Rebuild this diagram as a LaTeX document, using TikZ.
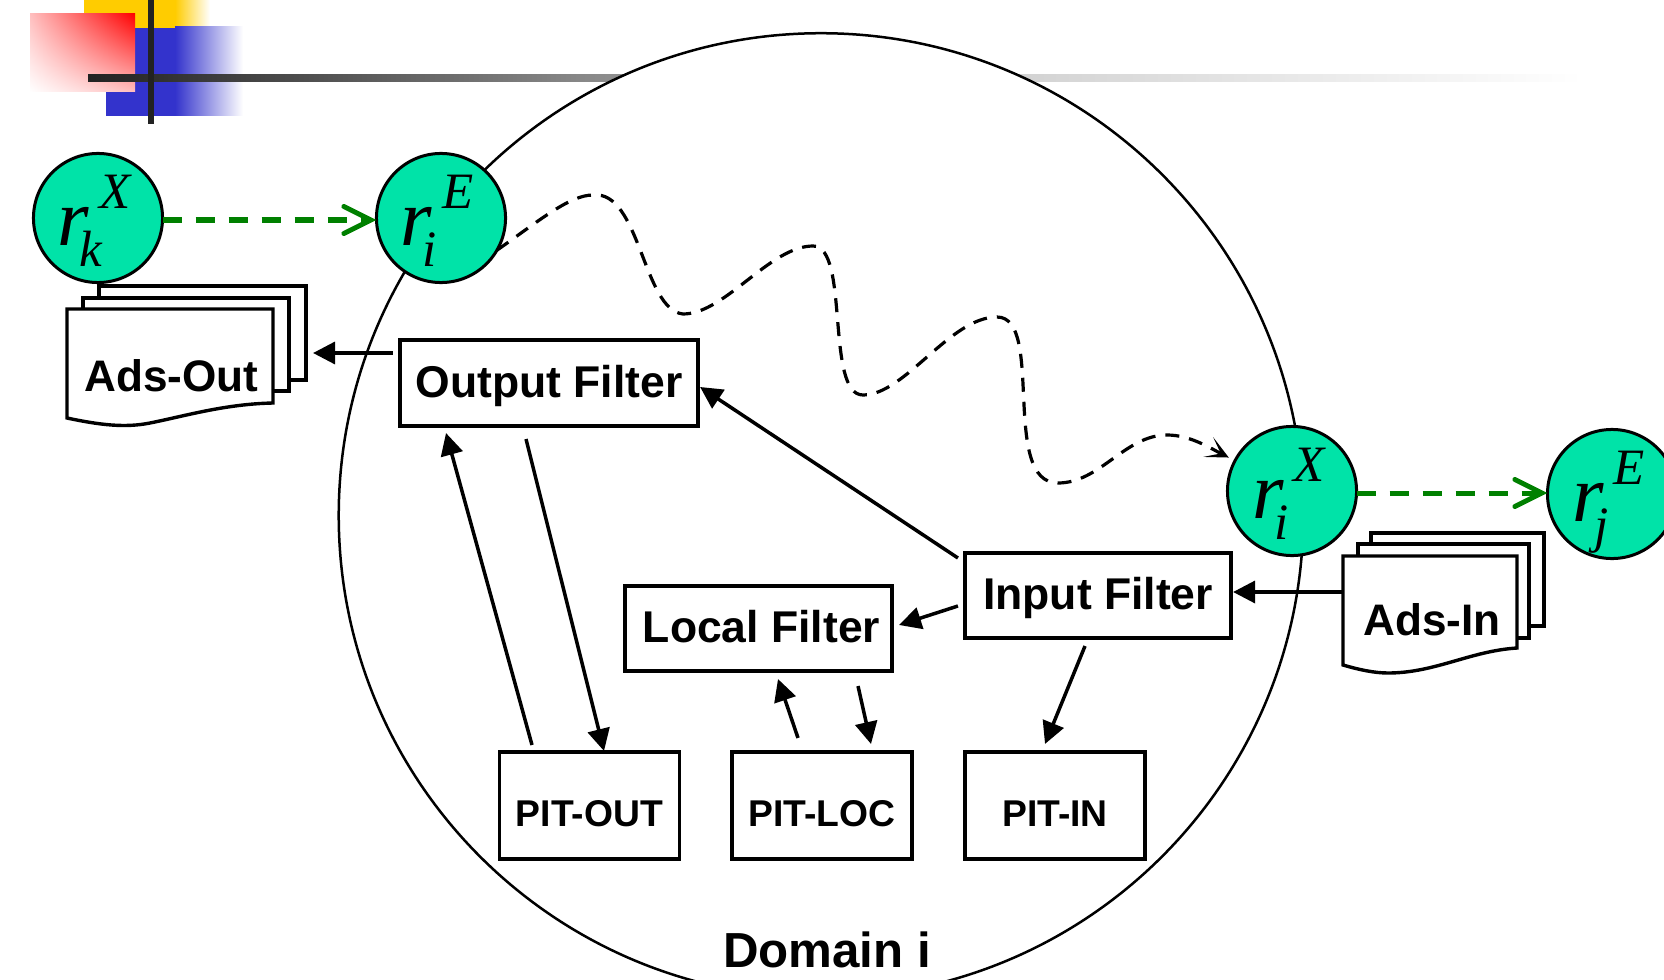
\documentclass[tikz,border=0pt]{standalone}
\usepackage{fontspec}
\usepackage{xcolor}
\usepackage{tikz}
\usetikzlibrary{positioning,shapes.geometric,arrows.meta,calc,shadings}
\setmainfont{Liberation Sans}
\newfontfamily\rfont{Liberation Serif}
\definecolor{routerfill}{RGB}{0,227,168}
\definecolor{hopgreen}{RGB}{0,128,0}
\definecolor{logoyellow}{RGB}{255,204,0}
\definecolor{logoblue}{RGB}{51,51,204}
\definecolor{logodark}{RGB}{34,34,34}
\newcommand{\rtext}[2]{\rfont\itshape
    \makebox[0pt][l]{\hspace*{-.40cm}\raisebox{-.27cm}[0pt][0pt]{\fontsize{23}{23}\selectfont r}}%
    \makebox[0pt][l]{\hspace*{.01cm}\raisebox{.09cm}[0pt][0pt]{\fontsize{14.5}{14.5}\selectfont #1}}%
    \makebox[0pt][l]{\hspace*{-.18cm}\raisebox{-.48cm}[0pt][0pt]{\fontsize{14.5}{14.5}\selectfont #2}}}
\newcommand{\pitname}[1]{\makebox[0pt]{#1}}
\tikzset{
    router/.style={draw,circle,line width=.03cm,fill=routerfill,minimum size=1.29cm,inner sep=0pt,outer sep=0pt},
    filterbox/.style={draw,line width=.04cm,fill=white,minimum height=.85cm,inner sep=0pt,outer sep=0pt,
        font=\fontsize{12.65}{12.65}\selectfont\bfseries,text height=.28cm,text depth=0pt},
    sheet/.style={draw,line width=.034cm,fill=white,inner sep=0pt,outer sep=0pt},
    sheetline/.style={line width=.034cm,fill=white},
    sheettext/.style={anchor=base,inner sep=0pt,font=\fontsize{12.55}{12.55}\selectfont\bfseries},
    pit/.style={draw,cylinder,shape border rotate=90,aspect=.3,line width=.034cm,fill=white,minimum width=1.8cm,
        minimum height=1.07cm,inner sep=0pt,outer sep=0pt,anchor=shape center,
        font=\fontsize{10.6}{10.6}\selectfont\bfseries,text height=.40cm,text depth=0pt},
    flow/.style={-{Triangle[length=.22cm,width=.22cm]},line width=.035cm},
    hop/.style={-{Straight Barb[length=.27cm,width=.27cm,line cap=round]},line width=.05cm,hopgreen,dash pattern=on .19cm off .14cm},
    session/.style={-{Stealth[length=.23cm,width=.22cm,inset=.14cm]},line width=.032cm,dash pattern=on .14cm off .10cm}
}

\begin{document}
\begin{tikzpicture}[x=.01cm,y=-.01cm]
            \clip (0,0) rectangle (1664,979);
            % logo
            \fill[logoyellow] (84,0) rectangle (175,28);
            \shade[left color=logoyellow,right color=white] (175,0) rectangle (210,28);
            \fill[logoblue] (106,28) rectangle (175,116);
            \shade[left color=logoblue,middle color=logoblue!40!white,right color=white] (175,27) rectangle (243,116);
            \shade[upper right=red,lower left=white,upper left=red!25,lower right=red!25] (30,14) rectangle (135,92);
            \shade[left color=logodark,right color=black!42] (88,75) rectangle (640,82);
            \shade[left color=black!18,right color=white] (1000,75) rectangle (1583,82);
            \fill[logodark] (148,0) rectangle (154,124);
            % domain
            \node[draw,circle,line width=.025cm,fill=white,minimum size=9.64cm,inner sep=0pt,outer sep=0pt] (domain) at (821,515.5) {};
            \node[anchor=base,inner sep=0pt,font=\fontsize{14}{14}\selectfont\bfseries] (domainname) at (827,967) {Domain i};
            % routers
            \node[router] (rkx) at (98,218) {\rtext{X}{k}};
            \node[router] (rie) at (441,218) {\rtext{E}{i}};
            \node[router] (rix) at (1292,491) {\rtext{X}{i}};
            \node[router] (rje) at (1612,494) {\rtext{E}{j}};
            \draw[hop] ($(rkx.east)+(0,2)$) -- ($(rie.west)+(0,2)$);
            \draw[hop] ($(rix.east)+(0,2)$) -- ($(rje.west)+(0,-1)$);
            \draw[session,shorten >=.07cm] (rie.-30) .. controls (540,220) and (570,195) .. (593,195)
                .. controls (640,190) and (643,310) .. (683,314)
                .. controls (725,314) and (770,246) .. (813,246)
                .. controls (850,246) and (825,395) .. (863,395)
                .. controls (905,395) and (950,317) .. (997,317)
                .. controls (1045,317) and (1000,483) .. (1058,483)
                .. controls (1100,483) and (1125,435) .. (1167,435)
                .. controls (1190,435) and (1210,448) .. (rix.152);
            % advertisements
            \node[sheet,minimum width=2.07cm,minimum height=.94cm] (adsoutback) at (202.5,333) {};
            \node[sheet,minimum width=2.06cm,minimum height=.93cm] (adsoutmid) at (186,344.5) {};
            \coordinate (adsoutfront) at (67,309);
            \draw[sheetline] (adsoutfront) -- ++(206,0) -- ++(0,94) .. controls (225,404) and (185,416) .. (150,423)
                .. controls (125,428) and (100,425) .. (67,418) -- cycle;
            \node[sheettext] (adsout) at (171.5,391) {Ads-Out};
            \node[sheet,minimum width=1.73cm,minimum height=.93cm] (adsinback) at (1457.5,579.5) {};
            \node[sheet,minimum width=1.71cm,minimum height=.94cm] (adsinmid) at (1443.5,591) {};
            \coordinate (adsinfront) at (1343,556);
            \draw[sheetline] (adsinfront) -- ++(174,0) -- ++(0,92) .. controls (1470,651) and (1435,673) .. (1388,673)
                .. controls (1375,673) and (1360,670) .. (1343,665) -- cycle;
            \node[sheettext] (adsin) at (1432,635) {Ads-In};
            % filters
            \node[filterbox,minimum width=2.98cm] (outfilter) at (549,383) {Output Filter};
            \node[filterbox,minimum width=2.66cm] (localfilter) at (758.5,628.5) {\hspace*{.06cm}Local Filter};
            \node[filterbox,minimum width=2.66cm] (infilter) at (1098,595.5) {Input Filter};
            % tables
            \node[pit] (pitout) at (589.5,805.5) {\pitname{PIT-OUT}};
            \node[pit] (pitloc) at (822,805.5) {\pitname{PIT-LOC}};
            \node[pit] (pitin) at (1055,805.5) {\pitname{PIT-IN}};
            \draw[flow] ($(outfilter.west)+(-7,-30)$) -- ($(adsoutback.east)+(7,20)$);
            \draw[flow] ($(adsinfront)+(0,36)$) -- ($(infilter.east)+(2,-3.5)$);
            \draw[flow] ($(infilter.north west)+(-7,5)$) -- ($(outfilter.east)+(2,4)$);
            \draw[flow] ($(infilter.west)+(-7,10.5)$) -- ($(localfilter.east)+(7.5,-3.5)$);
            \draw[flow] ($(infilter.south)+(-13,8)$) -- ($(pitin.north)+(-10,-8)$);
            \draw[flow] ($(pitout.north)+(-57.5,-7)$) -- ($(outfilter.south)+(-103,7.5)$);
            \draw[flow] ($(outfilter.south)+(-23,13.5)$) -- ($(pitout.north)+(14.5,-1)$);
            \draw[flow] ($(pitloc.north)+(-24,-14)$) -- ($(localfilter.south)+(19.5,8)$);
            \draw[flow] ($(localfilter.south)+(99.5,15)$) -- ($(pitloc.north)+(49,-8)$);
        \end{tikzpicture}
\end{document}
